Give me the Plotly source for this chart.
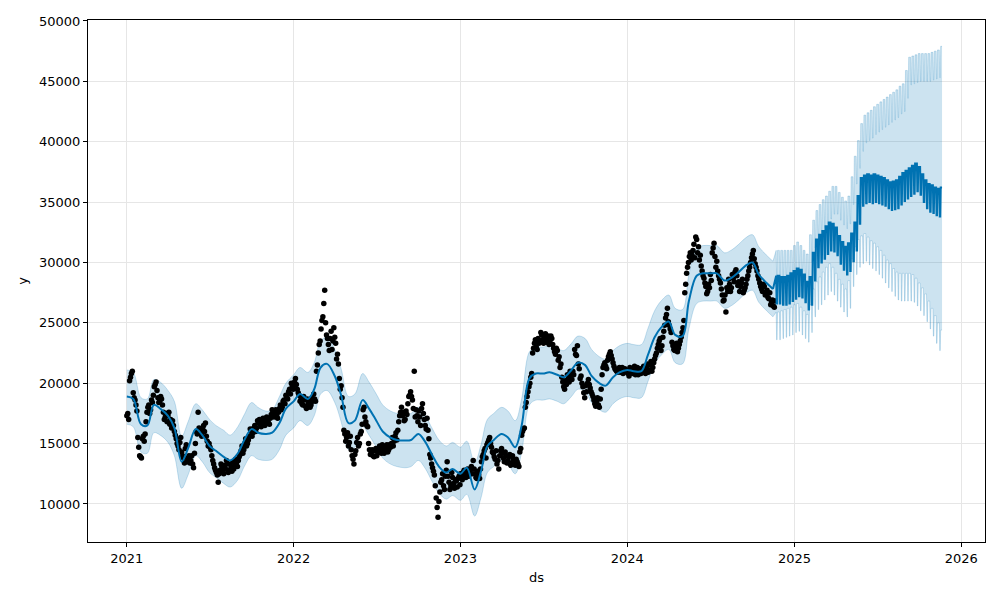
import pandas as pd
import plotly.graph_objects as go

# ---------------- observed values (every 4 days, from Jan 1) ----------------
obs_2021 = [17300, 17000, 20500, 21000, 18800, 18200, 15500, 14000, 13800, 15600,
            15800, 17600, 18200, 17800, 18400, 19700, 20100, 18800, 18500, 18700,
            17600, 17200, 16800, 17600, 17000, 16900, 16000, 15400, 14800, 15100,
            14300, 13800, 14600, 13500, 14000, 13600, 13300, 14200, 16000, 17600,
            16100, 15600, 16500, 16700, 15200, 15000, 14500, 13600, 13000, 12600,
            11800, 12800, 13100, 12500, 12900, 13300, 12800, 13000, 13500, 13200,
            13400, 13600, 14100, 14800, 14500, 15400, 15000, 15600, 16000, 15900,
            16500, 16300, 16700, 16600, 16900, 16700, 16800, 17000, 16600, 17400,
            17600, 17500, 17300, 17600, 18200, 18000, 18600, 19000, 18700, 19500,
            20000, 19500]
obs_2022 = [19800, 20400, 19500, 19000, 18800, 18200, 18600, 17900, 18300, 18000,
            18800, 19100, 18500, 21500, 23200, 24500, 25500, 27700, 24000, 23200,
            23700, 22800, 24600, 23300, 22400, 20400, 19800, 18000, 15800, 15500,
            14800, 15600, 14000, 13300, 14400, 15500, 15000, 16000, 17800, 17200,
            16500, 15000, 14100, 14500, 13900, 14600, 14300, 14800, 14200, 14600,
            14400, 14900, 14500, 14700, 15500, 15200, 15900, 16100, 17300, 18000,
            17600, 17000, 17400, 18900, 19300, 18600, 21000, 17800, 16800, 17200,
            17900, 17500, 16500, 17100, 15400, 13800, 13000, 12400, 10500, 8900,
            11000, 12000, 11500, 12300, 13500, 11800, 11500, 12200, 11300, 11900,
            12100, 11600]
obs_2023 = [12500, 12000, 12800, 12200, 12900, 12600, 13100, 13600, 12500, 12100,
            12400, 12900, 13900, 14400, 13800, 15100, 15500, 14700, 14200, 13700,
            13300, 12900, 14400, 14200, 13500, 14000, 13600, 14100, 13400, 13700,
            13200, 13500, 13100, 14600, 16000, 16300, 18400, 19300, 20000, 20800,
            22900, 23600, 22800, 23300, 24200, 23600, 23800, 23400, 23900, 23400,
            23700, 22900, 22400, 22700, 22200, 21600, 20100, 19500, 19900, 20400,
            21000, 20300, 20700, 22400, 23100, 21200, 20600, 19700, 18800, 19300,
            20300, 19600, 19100, 18600, 18100, 18800, 18000, 19500, 21300, 21700,
            21200, 22200, 22600, 22000, 21400, 21100, 20900, 21300, 21100, 20800,
            21200, 20900]
obs_2024 = [21000, 20600, 21200, 20800, 21400, 21000, 20700, 21200, 20900, 21400,
            20800, 21600, 21100, 21800, 21300, 22000, 22500, 23200, 23700, 23100,
            24300, 25400, 26200, 24800, 24200, 23100, 22700, 23300, 22900, 23500,
            24200, 25200, 28200, 29600, 30500, 30200, 31000, 30400, 31900, 31300,
            30600, 29300, 28700, 28000, 27600, 27900, 28500, 31200, 30500, 30100,
            28900, 28300, 27300, 26900, 25900, 27600, 28200, 27900, 28700, 29200,
            28900, 28400, 28000, 28600, 27700, 28200, 28900, 29600, 30400, 31000,
            29900, 29300, 28600, 28000, 27600, 28000, 27400, 27100, 27500, 26700,
            26400, 26800]
# ---------------- observed values (every 4 days, from Jan 3) ----------------
obs_2021b = [17500, 20200, 20800, 19200, 18600, 17700, 14700, 13900, 15400, 15200,
             16800, 18000, 17500, 18600, 19000, 19900, 19400, 18400, 18900, 18200,
             17000, 17500, 17300, 16600, 16300, 16500, 15700, 15000, 14500, 15500,
             14000, 13400, 14900, 13800, 13400, 14000, 13000, 15000, 15800, 16300,
             15800, 16300, 16000, 15600, 14800, 14700, 14000, 13300, 12800, 12400,
             12500, 13300, 12700, 13200, 13600, 12600, 13300, 12700, 12900, 13700,
             13100, 13900, 14400, 14200, 15000, 14800, 15300, 16200, 15600, 16300,
             16000, 16900, 17000, 16400, 17100, 16500, 17200, 16700, 17100, 17800,
             17200, 17800, 17100, 17900, 17800, 18500, 18300, 18800, 19300, 19100,
             19800]
obs_2022b = [20100, 19900, 19200, 18500, 18300, 18900, 18100, 18700, 18500, 18200,
             18500, 18700, 21000, 22500, 23500, 25200, 26600, 25000, 23700, 22700,
             24300, 23500, 23800, 22000, 21600, 19500, 18800, 16100, 15200, 15900,
             15100, 14500, 13700, 14100, 15100, 14800, 15800, 16600, 18000, 16800,
             16400, 14500, 14300, 14000, 14400, 14000, 14500, 14600, 14900, 14200,
             14700, 14300, 14900, 15000, 14800, 15600, 15300, 16800, 17600, 17300,
             16900, 17700, 18300, 19000, 18900, 17900, 17200, 17300, 17700, 16500,
             18300, 17000, 16200, 16100, 14100, 13300, 12700, 11500, 9700, 10200,
             11800, 12500, 11200, 12800, 12300, 11200, 12600, 11700, 12000, 11400,
             12300]
obs_2023b = [12200, 12600, 12400, 12700, 12300, 12900, 12500, 12900, 12200, 12700,
             12100, 13500, 14100, 14600, 14900, 15300, 15000, 14300, 13900, 14400,
             13600, 14000, 14600, 13800, 14300, 13400, 13900, 13200, 14000, 13400,
             13700, 13300, 14300, 15700, 16200, 18000, 18900, 19700, 20500, 22500,
             23300, 23000, 23700, 23500, 24000, 23300, 24100, 23600, 23200, 23900,
             23200, 22600, 22900, 21900, 21300, 20500, 19700, 20200, 20700, 20100,
             20600, 21000, 22800, 22300, 21600, 20400, 20000, 19200, 19800, 20000,
             19900, 19300, 18900, 18300, 18500, 18200, 18700, 20700, 21500, 21400,
             21900, 22400, 22300, 21700, 21200, 21000, 21200, 20900, 21300, 21000,
             21100]
obs_2024b = [20800, 21300, 20900, 21100, 20700, 21300, 21000, 20800, 21200, 21000,
             21300, 20900, 21500, 21000, 21700, 22300, 22900, 23500, 22700, 23800,
             24800, 25700, 25100, 24500, 23400, 22800, 23000, 22600, 23200, 23800,
             24600, 27500, 29100, 30000, 30800, 30600, 31500, 32100, 30800, 30200,
             29700, 28900, 28300, 27400, 28200, 29000, 30800, 31600, 29600, 29300,
             28600, 27800, 26800, 27300, 27900, 28600, 27600, 29000, 28400, 29400,
             28100, 27600, 28300, 27500, 27900, 28600, 29300, 30000, 30700, 30300,
             29600, 28900, 28300, 27800, 28200, 27300, 27700, 27000, 26500, 26900,
             26300]

# ---------------- fitted values over history (1st / 15th of month) ----------------
hist_yhat = [18900, 18700, 16600, 16500, 18200, 17900, 17300, 16300, 13500, 14600,
             16200, 15700, 14800, 14400, 13900, 13600, 14200, 15300, 16200, 15900,
             15800, 15900, 16700, 17900,
             18500, 19100, 18700, 19500, 21300, 21600, 20600, 19000, 16700, 16900,
             18600, 17900, 16900, 16000, 15500, 15300, 15250, 15300, 15800, 15200,
             14000, 13100, 12600, 12900,
             12500, 13000, 11200, 12700, 14800, 15300, 15800, 15500, 14700, 16500,
             20400, 20800, 20800, 20900, 20700, 20500, 21100, 21700, 21500, 20600,
             20000, 19800, 20500, 20900,
             21100, 21000, 21000, 22300, 23800, 24600, 25100, 24000, 23900, 26800,
             28900, 29100, 29100, 29100, 28500, 28700, 29200, 29700, 30000, 29000,
             28300, 27800]
hist_upper = [21100, 20900, 18800, 18700, 20300, 20100, 19400, 18500, 15600, 16800,
              18300, 17800, 17000, 16500, 16100, 15700, 16400, 17400, 18400, 18000,
              17700, 17800, 18900, 20000,
              20700, 21300, 20900, 21700, 23500, 23800, 22800, 21200, 18900, 19100,
              20800, 20100, 19100, 18200, 17700, 17500, 17400, 17500, 18000, 17400,
              16200, 15300, 14800, 15100,
              14700, 15200, 13400, 14900, 17000, 17500, 18000, 17700, 16900, 18700,
              22600, 23000, 23000, 23100, 22900, 22700, 23300, 23900, 23700, 22800,
              22200, 22000, 22700, 23100,
              23300, 23200, 23200, 24500, 26000, 26800, 27300, 26200, 26100, 29000,
              31200, 31400, 31400, 31400, 30800, 31000, 31500, 32000, 32300, 31300,
              30600, 30100]
hist_lower = [16600, 16400, 14300, 14200, 15900, 15700, 15100, 14000, 11300, 12400,
              14000, 13500, 12600, 12200, 11700, 11400, 12000, 13100, 14000, 13700,
              13600, 13700, 14500, 15700,
              16300, 16900, 16500, 17300, 19100, 19400, 18400, 16800, 14500, 14700,
              16400, 15700, 14700, 13800, 13300, 13100, 13000, 13100, 13600, 13000,
              11800, 10900, 10400, 10700,
              10300, 10800, 9000, 10500, 12600, 13100, 13600, 13300, 12500, 14300,
              18200, 18600, 18600, 18700, 18500, 18300, 18900, 19500, 19300, 18400,
              17800, 17600, 18300, 18700,
              18900, 18800, 18800, 20100, 21600, 22300, 22800, 21700, 21600, 24500,
              26600, 26800, 26800, 26800, 26200, 26400, 26900, 27400, 27700, 26700,
              26000, 25500]

# ---------------- forecast (weekly level, weeks starting Monday 2024-11-18) ----------------
fut_yhat = [28900, 28900, 28800, 28800, 28900, 29100, 29300, 29500, 29400, 29000,
            28400, 28800, 30800, 31900, 32300, 32600, 33000, 33300, 33200, 32900,
            32200, 31700, 31300, 31600, 32400, 33300, 35500, 37000, 37200, 37300,
            37200, 37300, 37200, 37100, 37000, 36800, 36650, 36700, 36800, 37100,
            37400, 37600, 37800, 38000, 38200, 37900, 37300, 36800, 36500, 36400,
            36200, 36100, 36200]
fut_upper = [31000, 31000, 31000, 31000, 31000, 31000, 31400, 31700, 31400, 31000,
             30700, 32300, 33500, 34300, 34800, 35200, 35500, 35900, 36300, 36300,
             35800, 35400, 35100, 35500, 37100, 38800, 40100, 41500, 42200, 42400,
             42600, 42900, 43100, 43300, 43500, 43700, 43900, 44100, 44300, 44600,
             44800, 45900, 47000, 47100, 47200, 47300, 47300, 47300, 47300, 47400,
             47500, 47600, 47900]
fut_lower = [25900, 25900, 26000, 26100, 26200, 26300, 26500, 26600, 26300, 26000,
             25700, 26500, 27800, 28400, 28800, 29200, 29600, 29900, 29600, 29100,
             28600, 28200, 27800, 28500, 30300, 31300, 31900, 32200, 32400, 32100,
             31800, 31600, 31300, 31000, 30600, 30200, 29900, 29500, 29200, 29100,
             29100, 29100, 29100, 29000, 28700, 28300, 27900, 27400, 26800, 26200,
             25600, 25000, 24400]
# day-of-week effect, Monday .. Sunday
dow_effect = [0, 0, 0, 0, 0, -2300, -2300]

x_tick_labels = ["2021", "2022", "2023", "2024", "2025", "2026"]
y_tick_values = [10000, 15000, 20000, 25000, 30000, 35000, 40000, 45000, 50000]

# ---------------- assemble ----------------
obs_x, obs_y = [], []
for start, vals in [("2021-01-01", obs_2021), ("2022-01-01", obs_2022),
                    ("2023-01-01", obs_2023), ("2024-01-01", obs_2024),
                    ("2021-01-03", obs_2021b), ("2022-01-03", obs_2022b),
                    ("2023-01-03", obs_2023b), ("2024-01-03", obs_2024b)]:
    d = pd.date_range(start, periods=len(vals), freq="4D")
    obs_x += list(d)
    obs_y += vals

hist_dates = list(pd.date_range("2021-01-01", periods=len(hist_yhat), freq="SMS"))

fut_dates = pd.date_range("2024-11-21", "2025-11-20", freq="D")
week0 = pd.Timestamp("2024-11-18")
fx, fy, fu, fl = [hist_dates[-1]], [hist_yhat[-1]], [hist_upper[-1]], [hist_lower[-1]]
for d in fut_dates:
    w = (d - week0).days // 7
    e = dow_effect[d.weekday()]
    fx.append(d)
    fy.append(fut_yhat[w] + e)
    fu.append(fut_upper[w] + e)
    fl.append(fut_lower[w] + e)

band = "rgba(0,114,178,0.2)"
blue = "#0072B2"
fig = go.Figure()
# history band
fig.add_trace(go.Scatter(x=hist_dates, y=hist_lower, mode="lines", line_shape="spline",
                         line=dict(color=band, width=1), showlegend=False, hoverinfo="skip"))
fig.add_trace(go.Scatter(x=hist_dates, y=hist_upper, mode="lines", line_shape="spline",
                         fill="tonexty", fillcolor=band,
                         line=dict(color=band, width=1), showlegend=False, hoverinfo="skip"))
# forecast band
fig.add_trace(go.Scatter(x=fx, y=fl, mode="lines",
                         line=dict(color=band, width=1), showlegend=False, hoverinfo="skip"))
fig.add_trace(go.Scatter(x=fx, y=fu, mode="lines", fill="tonexty", fillcolor=band,
                         line=dict(color=band, width=1), showlegend=False, hoverinfo="skip"))
# observations
fig.add_trace(go.Scatter(x=obs_x, y=obs_y, mode="markers",
                         marker=dict(color="black", size=5.5), showlegend=False))
# fitted / forecast line
fig.add_trace(go.Scatter(x=hist_dates, y=hist_yhat, mode="lines", line_shape="spline",
                         line=dict(color=blue, width=2), showlegend=False))
fig.add_trace(go.Scatter(x=fx, y=fy, mode="lines",
                         line=dict(color=blue, width=2), showlegend=False))

font = dict(family="DejaVu Sans", size=13, color="black")
fig.update_layout(
    width=1000, height=600,
    margin=dict(l=88, r=15, t=20, b=58),
    paper_bgcolor="white", plot_bgcolor="white",
    font=font,
    xaxis=dict(
        range=["2020-10-08", "2026-02-22"],
        tickvals=[f"{t}-01-01" for t in x_tick_labels], ticktext=x_tick_labels,
        showgrid=True, gridcolor="rgb(230,230,230)", gridwidth=1,
        showline=True, linecolor="black", linewidth=1, mirror=True,
        ticks="outside", ticklen=4, tickcolor="black", zeroline=False,
        title=dict(text="ds", font=font, standoff=8),
    ),
    yaxis=dict(
        range=[6850, 50080],
        tickvals=y_tick_values, ticktext=[str(v) for v in y_tick_values],
        showgrid=True, gridcolor="rgb(230,230,230)", gridwidth=1,
        showline=True, linecolor="black", linewidth=1, mirror=True,
        ticks="outside", ticklen=4, tickcolor="black", zeroline=False,
        title=dict(text="y", font=font, standoff=8),
    ),
)
fig.write_html("out.html")
